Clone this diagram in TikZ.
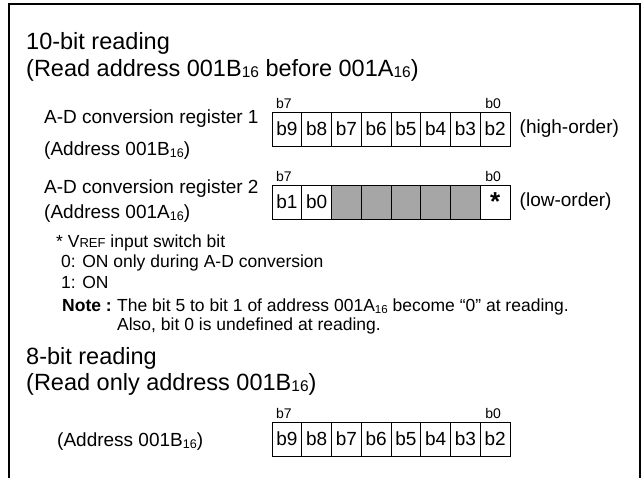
\documentclass[tikz,border=0pt]{standalone}
\usepackage{fontspec}
\setmainfont{Liberation Sans}
\usetikzlibrary{positioning}
\definecolor{cellgray}{RGB}{166,166,166}
\tikzset{
  heading/.style={anchor=west,inner sep=0pt,
    font=\fontsize{23.5}{26}\selectfont},
  regtext/.style={anchor=west,inner sep=0pt,
    font=\fontsize{19}{22}\selectfont},
  smalltext/.style={anchor=west,inner sep=0pt,
    font=\fontsize{17.5}{20}\selectfont},
  bitlabel/.style={inner sep=0pt,
    font=\fontsize{14}{16}\selectfont},
  bitcell/.style={rectangle,draw=black,line width=1pt,
    minimum width=29.75pt,minimum height=34pt,inner sep=0pt,
    font=\fontsize{19}{22}\selectfont},
}
\newcommand{\hexsub}{\raisebox{-0.08em}{\scalebox{0.66}{16}}}
\newcommand{\vref}{V{\fontsize{13}{13}\selectfont REF}}

\begin{document}
\begin{tikzpicture}[x=1pt,y=-1pt]
  \useasboundingbox (0,0) rectangle (642,477);
  \draw[line width=2pt] (9,480) -- (9,4) -- (640,4) -- (640,480);

  % 10-bit reading
  \node (h10) [heading] at (26,43) {10-bit reading};
  \node (h10sub) [heading] at (26,70) {(Read address 001B\hexsub{} before 001A\hexsub)};

  \foreach \lab [count=\i] in {b9,b8,b7,b6,b5,b4,b3,b2}
    \node (ra\i) [bitcell] at ({272+29.75*(\i-0.5)},129) {\lab};
  \node (ra7lab) [bitlabel,above=3pt of ra1,xshift=-3pt] {b7};
  \node (ra0lab) [bitlabel,above=3pt of ra8,xshift=-2pt] {b0};
  \node (raname) [regtext] at (44,119) {A-D conversion register 1};
  \node (raaddr) [regtext] at (44,151) {(Address 001B\hexsub)};
  \node (rahigh) [regtext,right=9pt of ra8] {(high-order)};

  \foreach \lab/\shade [count=\i] in {b1/white,b0/white,{}/cellgray,{}/cellgray,
      {}/cellgray,{}/cellgray,{}/cellgray,{\raisebox{-0.35em}{\fontsize{26}{26}\selectfont\textbf{*}}}/white}
    \node (rb\i) [bitcell,fill=\shade] at ({272+29.75*(\i-0.5)},202) {\lab};
  \node (rb7lab) [bitlabel,above=3pt of rb1,xshift=-3pt] {b7};
  \node (rb0lab) [bitlabel,above=3pt of rb8,xshift=-2pt] {b0};
  \node (rbname) [regtext] at (44,189) {A-D conversion register 2};
  \node (rbaddr) [regtext] at (44,214) {(Address 001A\hexsub)};
  \node (rblow) [regtext,right=9pt of rb8] {(low-order)};

  % footnote and note
  \node (star) [smalltext] at (56,243) {* \vref{} input switch bit};
  \node (sw0) [smalltext] at (61,263) {0: ON only during A-D conversion};
  \node (sw1) [smalltext] at (61,282) {1: ON};
  \node (note) [smalltext,font=\fontsize{17.5}{20}\selectfont\bfseries] at (62,306) {Note :};
  \node (notea) [smalltext,anchor=base west] at ([xshift=5pt]note.base east)
    {The bit 5 to bit 1 of address 001A\hexsub{} become “0” at reading.};
  \node (noteb) [smalltext,anchor=base west] at ([yshift=-19pt]notea.base west)
    {Also, bit 0 is undefined at reading.};

  % 8-bit reading
  \node (h8) [heading] at (26,358) {8-bit reading};
  \node (h8sub) [heading] at (26,384) {(Read only address 001B\hexsub)};

  \foreach \lab [count=\i] in {b9,b8,b7,b6,b5,b4,b3,b2}
    \node (rc\i) [bitcell] at ({272+29.75*(\i-0.5)},439) {\lab};
  \node (rc7lab) [bitlabel,above=3pt of rc1,xshift=-3pt] {b7};
  \node (rc0lab) [bitlabel,above=3pt of rc8,xshift=-2pt] {b0};
  \node (rcaddr) [regtext] at (57,442) {(Address 001B\hexsub)};
\end{tikzpicture}
\end{document}
